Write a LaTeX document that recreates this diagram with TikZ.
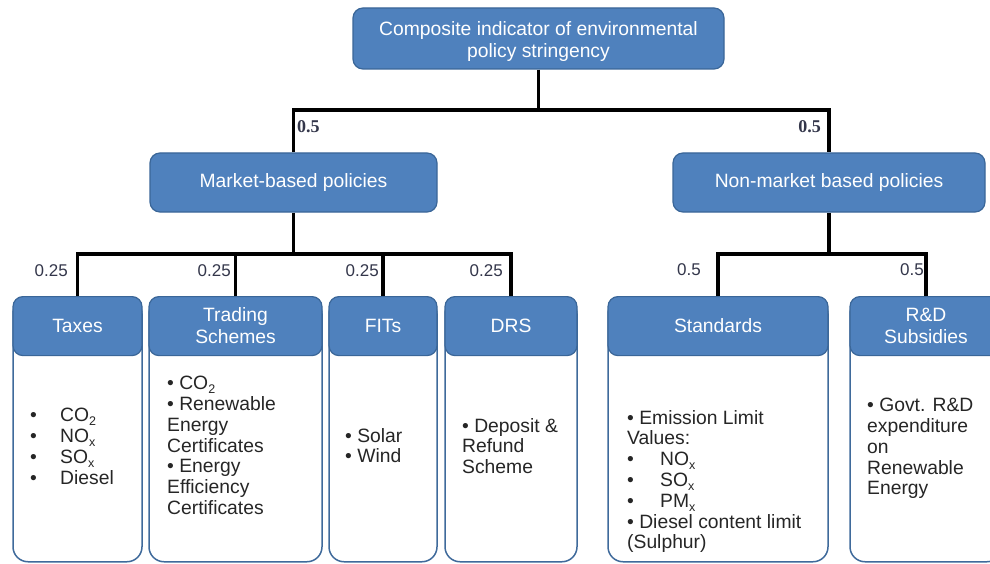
\documentclass[tikz,border=0pt]{standalone}
\usepackage{fontspec}
\setmainfont{Liberation Sans}
\newfontfamily\seriffont{Liberation Serif}
\usetikzlibrary{calc}
\definecolor{hfill}{HTML}{4F81BD}
\definecolor{hdraw}{HTML}{3A6698}
\definecolor{bdraw}{HTML}{3F6A9B}
\definecolor{btext}{HTML}{262626}
\definecolor{wtext}{HTML}{33364A}
\newcommand\sbs[1]{\raisebox{-4pt}{\fontsize{12.5}{12.5}\selectfont #1}}
\tikzset{
 hdr/.style={draw=hdraw, fill=hfill, line width=1.2pt, rounded corners=10pt, text=white, font=\fontsize{19.3}{22}\selectfont, align=center, inner sep=0pt},
 bodybox/.style={draw=bdraw, fill=white, line width=1.5pt, rounded corners=15pt, inner sep=0pt},
 btxt/.style={anchor=north west, inner sep=0pt, align=left, text=btext, font=\fontsize{19.3}{20.8}\selectfont},
 conn/.style={line width=3.5pt, black},
 wts/.style={inner sep=0pt, text=wtext, font=\fontsize{17}{19}\selectfont},
 wtb/.style={inner sep=0pt, text=wtext, font=\seriffont\bfseries\fontsize{18}{20}\selectfont},
}
\begin{document}
\begin{tikzpicture}[x=1pt,y=-1pt]
\useasboundingbox (0,0) rectangle (990,564);
% top level
\node[hdr, minimum width=371pt, minimum height=61pt] (top) at (538.5,38.5) {\rule{0pt}{20pt}Composite indicator of environmental\\policy stringency};
\node[hdr, minimum width=287pt, minimum height=59pt] (mkt) at (293.5,182.5) {Market-based policies};
\node[hdr, minimum width=312pt, minimum height=59pt] (nonmkt) at (829,182.5) {Non-market based policies};
% bodies
\node[bodybox, minimum width=129pt, minimum height=263pt, anchor=north] (taxesB) at (77.5,298) {};
\node[bodybox, minimum width=173pt, minimum height=263pt, anchor=north] (tradingB) at (235.5,298) {};
\node[bodybox, minimum width=108pt, minimum height=263pt, anchor=north] (fitsB) at (383,298) {};
\node[bodybox, minimum width=132pt, minimum height=263pt, anchor=north] (drsB) at (511,298) {};
\node[bodybox, minimum width=220pt, minimum height=263pt, anchor=north] (stdB) at (718,298) {};
\node[bodybox, minimum width=152pt, minimum height=263pt, anchor=north] (rndB) at (926,298) {};
% headers
\node[hdr, minimum width=129pt, minimum height=59pt, anchor=north] (taxes) at (77.5,296) {Taxes};
\node[hdr, minimum width=173pt, minimum height=59pt, anchor=north] (trading) at (235.5,296) {Trading\\Schemes};
\node[hdr, minimum width=108pt, minimum height=59pt, anchor=north] (fits) at (383,296) {FITs};
\node[hdr, minimum width=132pt, minimum height=59pt, anchor=north] (drs) at (511,296) {DRS};
\node[hdr, minimum width=220pt, minimum height=59pt, anchor=north] (std) at (718,296) {Standards};
\node[hdr, minimum width=152pt, minimum height=59pt, anchor=north] (rnd) at (926,296) {R\&D\\Subsidies};
% body texts
\node[btxt] (taxesT) at (30,408) {\makebox[30pt][l]{•}CO\sbs{2}\\\makebox[30pt][l]{•}NO\sbs{x}\\\makebox[30pt][l]{•}SO\sbs{x}\\\makebox[30pt][l]{•}Diesel};
\node[btxt] (tradingT) at (167,376) {• CO\sbs{2}\\• Renewable\\Energy\\Certificates\\• Energy\\Efficiency\\Certificates};
\node[btxt] (fitsT) at (345,428) {• Solar\\• Wind};
\node[btxt] (drsT) at (462,418) {• Deposit \&\\Refund\\Scheme};
\node[btxt] (stdT) at (627,410) {• Emission Limit\\Values:\\\makebox[33pt][l]{•}NO\sbs{x}\\\makebox[33pt][l]{•}SO\sbs{x}\\\makebox[33pt][l]{•}PM\sbs{x}\\• Diesel content limit\\(Sulphur)};
\node[btxt] (rndT) at (867,398) {• Govt. R\&D\\expenditure\\on\\Renewable\\Energy};
% connectors
\coordinate (j1) at (538.5,110);
\coordinate (j2) at (293.5,254);
\coordinate (j3) at (829,254);
\draw[conn] (top.south) -- (j1);
\draw[conn] (mkt.north) |- (j1) -| (nonmkt.north);
\draw[conn] (mkt.south) -- (j2);
\draw[conn] (taxes.north) |- (j2) -| (drs.north);
\draw[conn] (trading.north) -- (trading.north |- j2);
\draw[conn] (fits.north) -- (fits.north |- j2);
\draw[conn] (nonmkt.south) -- (j3);
\draw[conn] (std.north) |- (j3) -| (rnd.north);
% weights
\node[wtb, anchor=west] (w1) at (297,127) {0.5};
\node[wtb, anchor=east] (w2) at (821,127) {0.5};
\node[wts, anchor=east] (w3) at (68,271) {0.25};
\node[wts, anchor=east] (w4) at (231,271) {0.25};
\node[wts, anchor=east] (w5) at (379,271) {0.25};
\node[wts, anchor=east] (w6) at (503,271) {0.25};
\node[wts, anchor=east] (w7) at (701,270) {0.5};
\node[wts, anchor=east] (w8) at (924,270) {0.5};
\end{tikzpicture}
\end{document}
